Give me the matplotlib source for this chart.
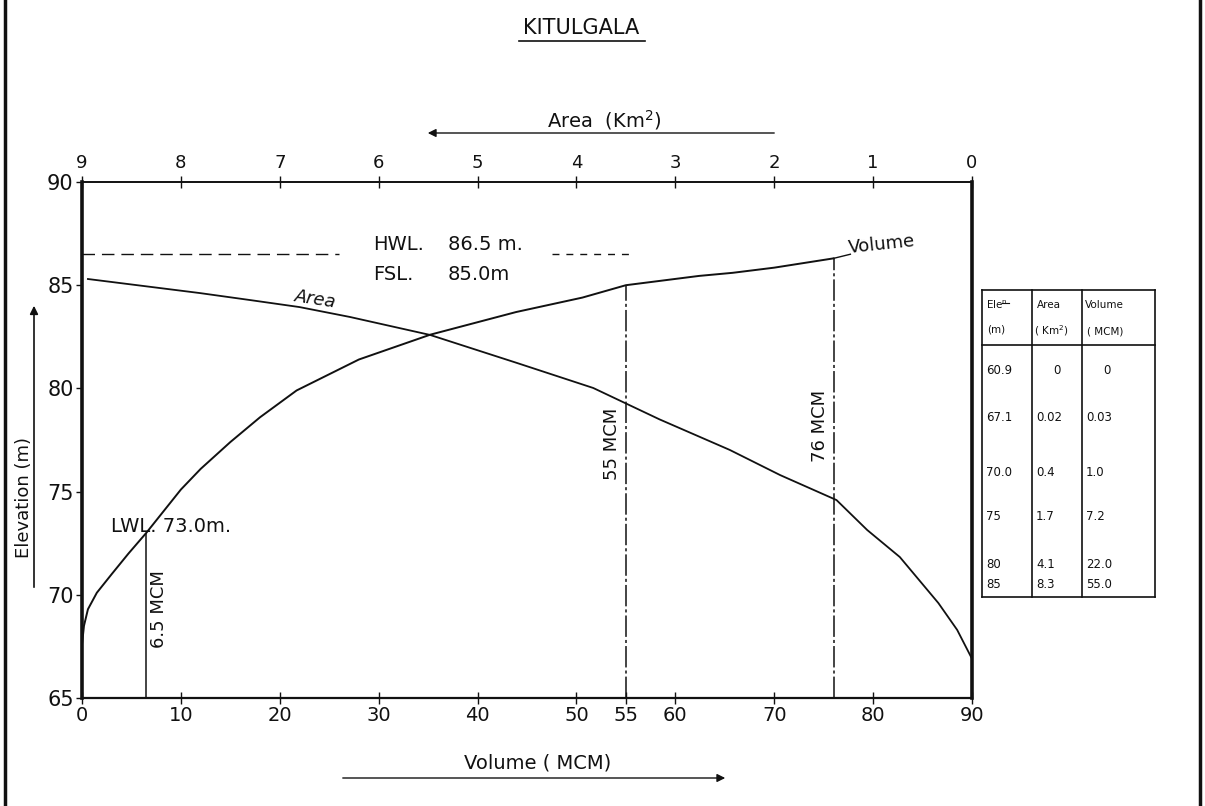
import numpy as np
import matplotlib
matplotlib.use("Agg")
import matplotlib.pyplot as plt
from matplotlib.lines import Line2D
from matplotlib.patches import FancyArrowPatch

plt.rcParams["font.family"] = ["DejaVu Sans"]

# Elevation - volume curve (MCM, m)
volume_mcm = [0.0, 0.2, 0.6, 1.5, 3.0, 4.7, 6.5, 8.0, 10.0, 12.0, 15.0, 18.0,
              21.7, 28.0, 35.2, 43.9, 50.6, 55.0, 62.4, 65.8, 70.0, 76.0]
volume_elev = [67.6, 68.5, 69.3, 70.1, 71.0, 72.0, 73.0, 73.9, 75.1, 76.1, 77.4, 78.6,
               79.9, 81.4, 82.6, 83.7, 84.4, 85.0, 85.45, 85.6, 85.85, 86.3]

# Elevation - area curve (km2, m)
area_km2 = [8.94, 7.81, 7.30, 6.80, 6.29, 5.48, 4.60, 3.83, 3.16, 2.45, 1.94,
            1.37, 1.06, 0.73, 0.34, 0.15, 0.0]
area_elev = [85.3, 84.62, 84.28, 83.94, 83.46, 82.59, 81.23, 80.02, 78.5, 77.02, 75.8,
             74.59, 73.14, 71.83, 69.6, 68.3, 66.9]

vol_ticks = [0, 10, 20, 30, 40, 50, 55, 60, 70, 80, 90]
area_ticks = [9, 8, 7, 6, 5, 4, 3, 2, 1, 0]
elev_ticks = [65, 70, 75, 80, 85, 90]

# Operating levels
lwl_elev, lwl_vol = 73.0, 6.5
fsl_elev, fsl_vol = 85.0, 55
hwl_elev, hwl_vol = 86.5, 76

# Capacity table
table_elev = ["60.9", "67.1", "70.0", "75", "80", "85"]
table_area = ["0", "0.02", "0.4", "1.7", "4.1", "8.3"]
table_vol = ["0", "0.03", "1.0", "7.2", "22.0", "55.0"]

W, H = 1205, 806
fig = plt.figure(figsize=(W / 100, H / 100), dpi=100)
fig.patch.set_facecolor("white")


def fx(px):
    return px / W


def fy(py):
    return 1 - py / H


INK = "#111111"

ax = fig.add_axes([fx(82), fy(698), fx(972) - fx(82), fy(182) - fy(698)])
ax.set_xlim(0, 90)
ax.set_ylim(65, 90)
for side, lw in (("left", 2.6), ("bottom", 1.6), ("top", 1.4), ("right", 2.6)):
    ax.spines[side].set_linewidth(lw)
    ax.spines[side].set_color(INK)

ax.set_xticks(vol_ticks)
ax.set_xticklabels([str(v) for v in vol_ticks])
ax.set_yticks(elev_ticks)
ax.set_yticklabels([str(v) for v in elev_ticks])
ax.tick_params(axis="x", direction="inout", length=8, width=1, labelsize=14, pad=2, colors=INK)
ax.tick_params(axis="y", direction="out", length=4, width=1, labelsize=15, pad=2, colors=INK)

# Top area axis, running right to left
ax2 = ax.twiny()
ax2.set_xlim(9, 0)
ax2.set_xticks(area_ticks)
ax2.set_xticklabels([str(v) for v in area_ticks])
ax2.tick_params(axis="x", direction="inout", length=8, width=1, labelsize=13, pad=3, colors=INK)
for side in ("left", "right", "bottom", "top"):
    ax2.spines[side].set_visible(False)

# Curves
ax.plot(volume_mcm, volume_elev, color=INK, lw=1.4)
ax2.plot(area_km2, area_elev, color=INK, lw=1.3)

# Storage marker lines
line_style = dict(colors=INK, linewidths=1.1)
ax.vlines(lwl_vol, 65, lwl_elev, linestyles="solid", **line_style)
ax.vlines(fsl_vol, 65, np.interp(fsl_vol, volume_mcm, volume_elev),
          linestyles=(0, (14, 2, 2, 2)), **line_style)
ax.vlines(hwl_vol, 65, np.interp(hwl_vol, volume_mcm, volume_elev),
          linestyles=(0, (14, 2, 2, 2)), **line_style)

# High water level, broken where the label sits
ax.hlines(hwl_elev, 0, 26.0, colors=INK, linewidths=1.0, linestyles=(0, (9, 5)))
ax.hlines(hwl_elev, 47.5, 55.5, colors=INK, linewidths=1.0, linestyles=(0, (5, 5)))

ax.text(29.4, 86.95, "HWL.", fontsize=14, va="center", ha="left", color=INK)
ax.text(37.0, 86.95, "86.5 m.", fontsize=14, va="center", ha="left", color=INK)
ax.text(29.4, 85.5, "FSL.", fontsize=14, va="center", ha="left", color=INK)
ax.text(37.0, 85.5, "85.0m", fontsize=14, va="center", ha="left", color=INK)

ax.text(2.9, lwl_elev + 0.05, "LWL. 73.0m.", fontsize=14, va="baseline", ha="left", color=INK)
ax.text(lwl_vol + 1.3, 69.3, "6.5 MCM", fontsize=13, rotation=90, va="center", ha="center", color=INK)
ax.text(fsl_vol - 1.4, 77.3, "55 MCM", fontsize=13, rotation=90, va="center", ha="center", color=INK)
ax.text(hwl_vol - 1.4, 78.2, "76 MCM", fontsize=13, rotation=90, va="center", ha="center", color=INK)

ax.text(23.6, 84.3, "Area", fontsize=13, style="italic", rotation=-9, va="center", ha="center", color=INK)
ax.text(80.9, 86.95, "Volume", fontsize=13, rotation=6, va="center", ha="center", color=INK)
ax.plot([hwl_vol, 77.7], [86.3, 86.5], color=INK, lw=1.0)

# Titles and axis captions
fig.text(fx(581), fy(28), "KITULGALA", fontsize=15, ha="center", va="center", color=INK)
fig.add_artist(Line2D([fx(519), fx(645)], [fy(41), fy(41)], color=INK, lw=1.2))

fig.text(fx(604), fy(120), "Area  (Km$^2$)", fontsize=14, ha="center", va="center", color=INK)
fig.add_artist(FancyArrowPatch((fx(777), fy(133)), (fx(425), fy(133)), transform=fig.transFigure,
                               arrowstyle="-|>", mutation_scale=12, lw=1.0, color=INK))

fig.text(fx(538), fy(763), "Volume ( MCM)", fontsize=14, ha="center", va="center", color=INK)
fig.add_artist(FancyArrowPatch((fx(340), fy(778)), (fx(728), fy(778)), transform=fig.transFigure,
                               arrowstyle="-|>", mutation_scale=12, lw=1.0, color=INK))

fig.text(fx(24), fy(497), "Elevation (m)", fontsize=13, rotation=90, ha="center", va="center", color=INK)
fig.add_artist(FancyArrowPatch((fx(34), fy(590)), (fx(34), fy(303)), transform=fig.transFigure,
                               arrowstyle="-|>", mutation_scale=12, lw=1.2, color=INK))

# Page borders
fig.add_artist(Line2D([fx(5), fx(5)], [0, 1], color=INK, lw=2.5))
fig.add_artist(Line2D([fx(1200), fx(1200)], [0, 1], color=INK, lw=2.5))

# Capacity table
tl, tr, tt, tb = 982, 1155, 290, 597
col_x = [982, 1032, 1082, 1155]
tline = dict(color=INK, lw=1.2)
for x in col_x:
    fig.add_artist(Line2D([fx(x), fx(x)], [fy(tt), fy(tb)], **tline))
for y in (tt, 345, tb):
    fig.add_artist(Line2D([fx(tl), fx(tr)], [fy(y), fy(y)], **tline))

hdr = dict(fontsize=7.5, va="center", ha="left", color=INK)
fig.text(fx(986), fy(305), "Ele$^{\\mathrm{n}}$", **hdr)
fig.add_artist(Line2D([fx(1002), fx(1009)], [fy(303), fy(303)], color=INK, lw=0.8))
fig.text(fx(987), fy(330), "(m)", **hdr)
fig.text(fx(1037), fy(305), "Area", **hdr)
fig.text(fx(1034), fy(331), "( Km$^2$)", **hdr)
fig.text(fx(1085), fy(305), "Volume", **hdr)
fig.text(fx(1087), fy(331), "( MCM)", **hdr)

row_y = [370, 417, 472, 517, 565, 585]
cell = dict(fontsize=8.5, va="center", color=INK)
for i, y in enumerate(row_y):
    fig.text(fx(986), fy(y), table_elev[i], ha="left", **cell)
    if table_area[i] == "0":
        fig.text(fx(1057), fy(y), table_area[i], ha="center", **cell)
    else:
        fig.text(fx(1036), fy(y), table_area[i], ha="left", **cell)
    if table_vol[i] == "0":
        fig.text(fx(1107), fy(y), table_vol[i], ha="center", **cell)
    else:
        fig.text(fx(1086), fy(y), table_vol[i], ha="left", **cell)

fig.savefig("out.png", dpi=100, facecolor="white")
